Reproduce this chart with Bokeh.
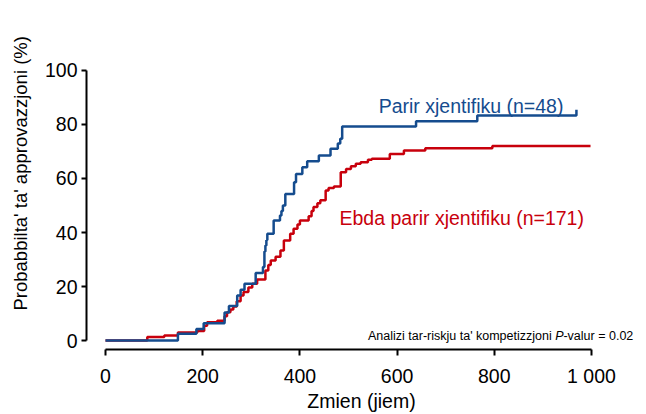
from bokeh.plotting import figure
from bokeh.models import Range1d, FixedTicker, Label, Title
from bokeh.embed import file_html
from bokeh.resources import INLINE

# ---- data ----
blue_days = [0, 149, 187, 202, 245, 254, 271, 278, 286, 309, 324, 327, 329, 331, 333,
             346, 359, 362, 365, 370, 388, 392, 405, 415, 439, 463, 478, 483, 487,
             639, 765, 969]
blue_pct = [0, 2.5, 4.3, 6.4, 10.4, 12.8, 16.7, 18.8, 21.0, 25.0, 27.2, 33.0, 35.2, 37.2, 39.5,
            44.4, 46.3, 48.0, 50.0, 54.3, 58.6, 61.7, 64.2, 66.4, 68.5, 71.0, 73.0, 74.7, 79.3,
            81.2, 83.3, 85.5]

red_days = [0, 86, 121, 149, 189, 203, 209, 230, 245, 250, 257, 263, 270, 278, 284, 294,
            302, 312, 329, 335, 340, 350, 360, 367, 380, 387, 395, 400, 418, 424, 428,
            436, 442, 453, 459, 470, 484, 495, 505, 515, 525, 540, 548, 585, 614, 658,
            796, 998]
red_pct = [0, 1.3, 1.85, 3.0, 3.5, 5.5, 6.8, 7.3, 9.0, 10.5, 11.5, 12.6, 14.5, 16.7, 18.0, 19.6,
           21.0, 22.6, 25.9, 28.0, 29.6, 31.0, 33.3, 37.0, 39.5, 41.4, 43.0, 44.4, 46.0, 48.0, 49.4,
           50.8, 51.9, 55.6, 56.5, 57.0, 62.3, 63.5, 64.5, 65.5, 66.0, 66.9, 67.3, 69.1, 70.4, 71.2,
           72.0, 72.0]

x_ticks = [0, 200, 400, 600, 800, 1000]
y_ticks = [0, 20, 40, 60, 80, 100]
x_tick_labels = {1000: "1 000"}

blue_name = "Parir xjentifiku (n=48)"
red_name = "Ebda parir xjentifiku (n=171)"
x_title = "Zmien (jiem)"
y_title = "Probabbilta' ta' approvazzjoni (%)"
note_a = "Analizi tar-riskju ta' kompetizzjoni "
note_p = "P"
note_b = "-valur = 0.02"

BLUE = "#154C8E"
RED = "#C8000C"
FONT = "Liberation Sans"

p = figure(width=646, height=414, output_backend="svg", toolbar_location=None,
           x_range=Range1d(-39.1, 1092.6), y_range=Range1d(-3.33, 103.7),
           min_border_left=86, min_border_top=60, min_border_right=10, min_border_bottom=0)
p.outline_line_color = None
p.xgrid.grid_line_color = None
p.ygrid.grid_line_color = None
p.background_fill_color = "white"
p.border_fill_color = "white"

for ax in (p.xaxis[0], p.yaxis[0]):
    ax.axis_line_width = 2
    ax.axis_line_color = "black"
    ax.major_tick_line_width = 2
    ax.major_tick_line_color = "black"
    ax.major_tick_in = 0
    ax.minor_tick_line_color = None
    ax.major_label_text_font = FONT
    ax.major_label_text_font_size = "19.5px"
    ax.major_label_text_color = "black"
    ax.axis_label_text_font = FONT
    ax.axis_label_text_font_style = "normal"
    ax.axis_label_text_color = "black"

p.xaxis.ticker = FixedTicker(ticks=x_ticks)
p.xaxis.bounds = (0, 1000)
p.xaxis.major_label_overrides = x_tick_labels
p.xaxis.major_tick_out = 6
p.xaxis.major_label_standoff = 9
p.xaxis.axis_label = x_title
p.xaxis.axis_label_text_font_size = "19.5px"
p.xaxis.axis_label_standoff = 0

p.yaxis.ticker = FixedTicker(ticks=y_ticks)
p.yaxis.bounds = (0, 100)
p.yaxis.major_tick_out = 5
p.yaxis.major_label_standoff = 4

p.add_layout(Title(text=y_title, align="left", vertical_align="top", text_font=FONT,
                   text_font_size="18.5px", text_font_style="normal", text_color="black",
                   offset=39, standoff=18), "left")

p.step(red_days, red_pct, mode="after", line_color=RED, line_width=2.5)
p.step(blue_days, blue_pct, mode="after", line_color=BLUE, line_width=2.5)

p.add_layout(Label(x=562, y=86.7, text=blue_name, text_font=FONT, text_font_size="19.5px",
                   text_color=BLUE, text_baseline="alphabetic"))
p.add_layout(Label(x=481.5, y=45.5, text=red_name, text_font=FONT, text_font_size="19.5px",
                   text_color=RED, text_baseline="alphabetic"))

note_x, note_y = 1086, 1.8
p.add_layout(Label(x=note_x, y=note_y, text=note_b, text_font=FONT, text_font_size="12.5px",
                   text_color="black", text_align="right", text_baseline="alphabetic"))
p.add_layout(Label(x=note_x, y=note_y, x_offset=-69.8, text=note_p, text_font=FONT,
                   text_font_size="12.5px", text_font_style="italic", text_color="black",
                   text_align="right", text_baseline="alphabetic"))
p.add_layout(Label(x=note_x, y=note_y, x_offset=-78.1, text=note_a, text_font=FONT,
                   text_font_size="12.5px", text_color="black", text_align="right",
                   text_baseline="alphabetic"))

open("out.html", "w").write(file_html(p, INLINE))
